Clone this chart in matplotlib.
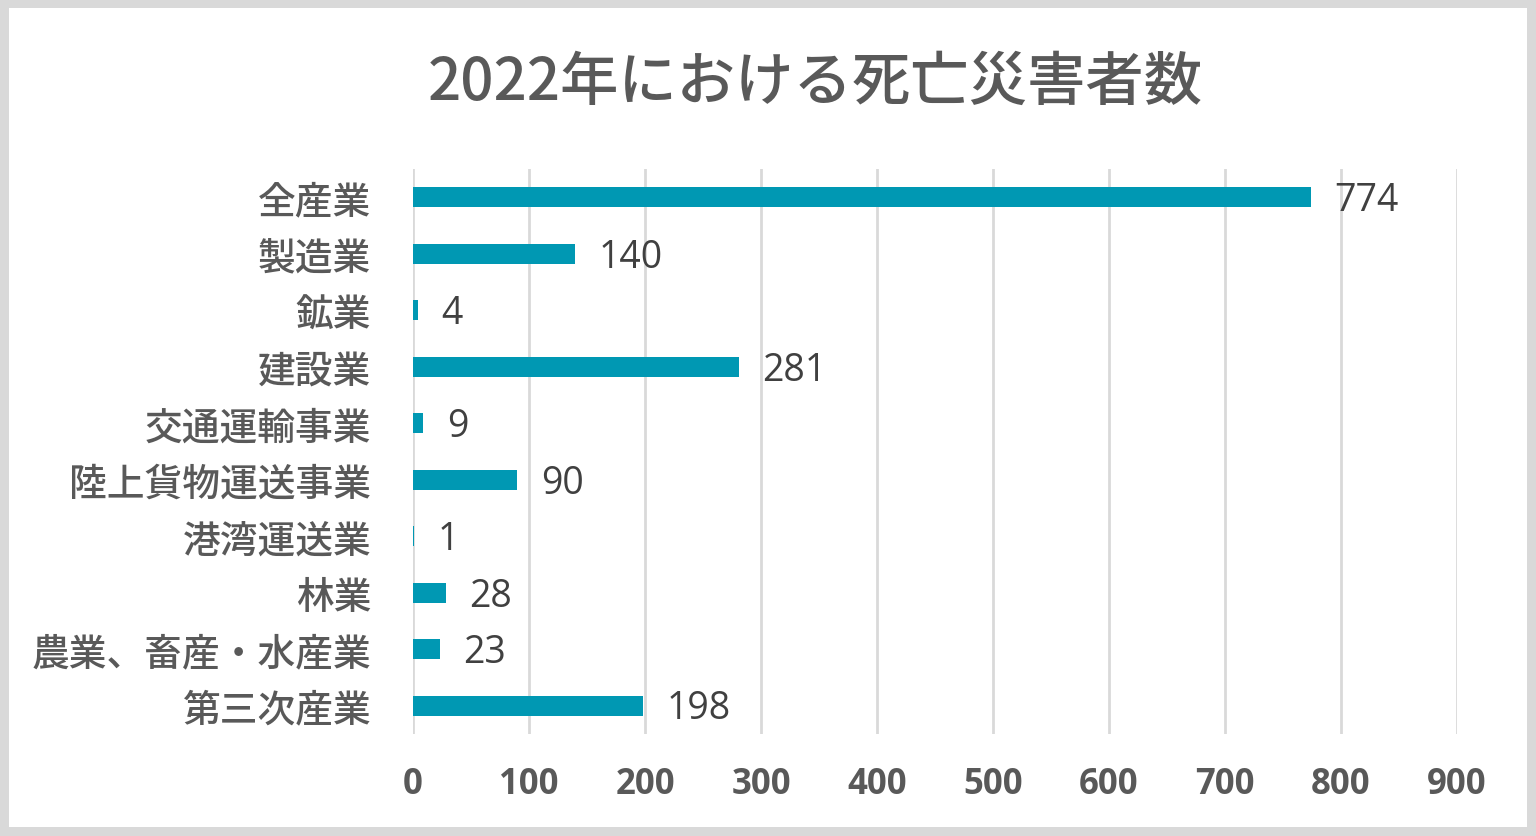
import matplotlib
matplotlib.use("Agg")
import matplotlib.pyplot as plt
import matplotlib.transforms as mtransforms
from matplotlib.patches import Rectangle

plt.rcParams["font.family"] = ["Open Sans", "Noto Sans CJK JP", "DejaVu Sans"]

TITLE = "2022年における死亡災害者数"
CATEGORIES = ["全産業", "製造業", "鉱業", "建設業", "交通運輸事業", "陸上貨物運送事業",
              "港湾運送業", "林業", "農業、畜産・水産業", "第三次産業"]
VALUES = [774, 140, 4, 281, 9, 90, 1, 28, 23, 198]
XTICKS = [0, 100, 200, 300, 400, 500, 600, 700, 800, 900]

BAR_COLOR = "#0098B3"
GRID_COLOR = "#D9D9D9"
TICK_COLOR = "#595959"
LABEL_COLOR = "#404040"
JP = ["Noto Sans CJK JP", "DejaVu Sans"]

fig = plt.figure(figsize=(15.36, 8.37), dpi=100)
# grey frame around the whole chart
fig.patch.set_facecolor("#D9D9D9")
fig.patches.append(Rectangle((0.0059, 0.0108), 0.9883, 0.9785, transform=fig.transFigure,
                             facecolor="white", edgecolor="none", zorder=-10))

ax = fig.add_axes([0.2689, 0.1219, 0.6797, 0.6750])
ax.set_facecolor("none")

ypos = list(range(len(CATEGORIES)))
ax.barh(ypos, VALUES, height=0.36, color=BAR_COLOR, zorder=3)
for y, v in zip(ypos, VALUES):
    ax.annotate(f"{v}", (v, y), xytext=(17, -2), textcoords="offset points",
                ha="left", va="center", fontsize=27, color=LABEL_COLOR, zorder=4)

ax.set_xlim(0, 900)
ax.set_ylim(len(CATEGORIES) - 0.5, -0.5)
ax.set_xticks(XTICKS)
ax.set_xticklabels([str(t) for t in XTICKS], fontsize=25, fontweight="bold", color=TICK_COLOR)
ax.set_yticks(ypos)
ax.set_yticklabels(CATEGORIES, fontsize=27.2, color=TICK_COLOR, family=JP, fontweight="medium")
# CJK glyphs sit a bit low; nudge labels up to line up with bars
nudge = mtransforms.ScaledTranslation(0, 4 / 100, fig.dpi_scale_trans)
for lab in ax.get_yticklabels():
    lab.set_transform(lab.get_transform() + nudge)
ax.tick_params(axis="x", length=0, pad=23)
ax.tick_params(axis="y", length=0, pad=30)
ax.grid(True, axis="x", color=GRID_COLOR, linewidth=2, zorder=0)
for s in ax.spines.values():
    s.set_visible(False)

fig.text(0.531, 0.900, TITLE, ha="center", va="center", fontsize=42,
         color=TICK_COLOR, family=JP, fontweight="medium")

fig.savefig("out.png", dpi=100, facecolor=fig.get_facecolor())
